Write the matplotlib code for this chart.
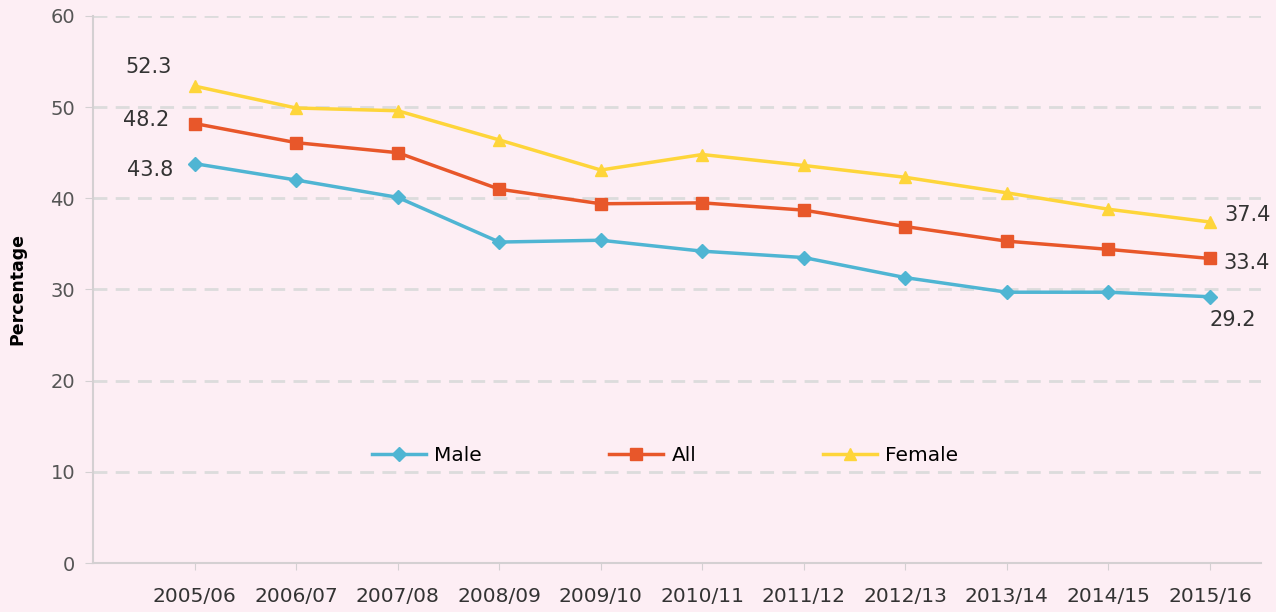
import matplotlib.pyplot as plt

# Data
years = ['2005/06', '2006/07', '2007/08', '2008/09', '2009/10', '2010/11',
         '2011/12', '2012/13', '2013/14', '2014/15', '2015/16']
male = [43.8, 42.0, 40.1, 35.2, 35.4, 34.2, 33.5, 31.3, 29.7, 29.7, 29.2]
all_people = [48.2, 46.1, 45.0, 41.0, 39.4, 39.5, 38.7, 36.9, 35.3, 34.4, 33.4]
female = [52.3, 49.9, 49.6, 46.4, 43.1, 44.8, 43.6, 42.3, 40.6, 38.8, 37.4]

bg = '#fdeef4'
plt.rcParams.update({'font.family': 'DejaVu Sans'})

fig = plt.figure(figsize=(12.76, 6.12), dpi=100, facecolor=bg)
ax = fig.add_axes([0.073, 0.080, 0.915, 0.894], facecolor=bg)

x = list(range(len(years)))

# Plot each series
ax.plot(x, male, color='#4fb5d3', lw=2.5, marker='D', ms=7, label='Male')
ax.plot(x, all_people, color='#e8572a', lw=2.5, marker='s', ms=8, label='All')
ax.plot(x, female, color='#fed53a', lw=2.5, marker='^', ms=9, label='Female')

# End labels
lab_col = '#333333'
lab_fs = 15
ax.text(x[0] - 0.45, female[0] + 2.1, f'{female[0]}', fontsize=lab_fs, color=lab_col, ha='center', va='center')
ax.text(x[0] - 0.48, all_people[0] + 0.4, f'{all_people[0]}', fontsize=lab_fs, color=lab_col, ha='center', va='center')
ax.text(x[0] - 0.44, male[0] - 0.7, f'{male[0]}', fontsize=lab_fs, color=lab_col, ha='center', va='center')
ax.text(x[-1] + 0.37, female[-1] + 0.8, f'{female[-1]}', fontsize=lab_fs, color=lab_col, ha='center', va='center')
ax.text(x[-1] + 0.36, all_people[-1] - 0.5, f'{all_people[-1]}', fontsize=lab_fs, color=lab_col, ha='center', va='center')
ax.text(x[-1] + 0.22, male[-1] - 2.6, f'{male[-1]}', fontsize=lab_fs, color=lab_col, ha='center', va='center')

ax.set_xlim(-1, 10.5)
ax.set_ylim(0, 60)
ax.set_yticks(range(0, 61, 10))
ax.set_xticks(x)
ax.set_xticklabels(years)

ax.grid(axis='y', linestyle=(0, (5, 3)), color='#dcdcdc', lw=2)
ax.set_axisbelow(True)

for side in ['top', 'right']:
    ax.spines[side].set_visible(False)
ax.spines['left'].set_color('#d4d0d2')
ax.spines['bottom'].set_color('#d4d0d2')
ax.spines['left'].set_linewidth(1.5)
ax.spines['bottom'].set_linewidth(1.5)

ax.tick_params(axis='y', colors='#d4d0d2', labelcolor='#555555', labelsize=14, length=6, pad=7)
ax.tick_params(axis='x', colors='#d4d0d2', labelcolor='#333333', labelsize=14.5, length=5, pad=12)

ax.set_ylabel('Percentage', fontsize=12.5, fontweight='bold', labelpad=17)

ax.legend(loc='center', bbox_to_anchor=(0.49, 0.197), ncol=3, frameon=False,
          fontsize=14.5, handlelength=2.7, columnspacing=6.3, handletextpad=0.4)

plt.savefig('out.png', dpi=100, facecolor=bg)
